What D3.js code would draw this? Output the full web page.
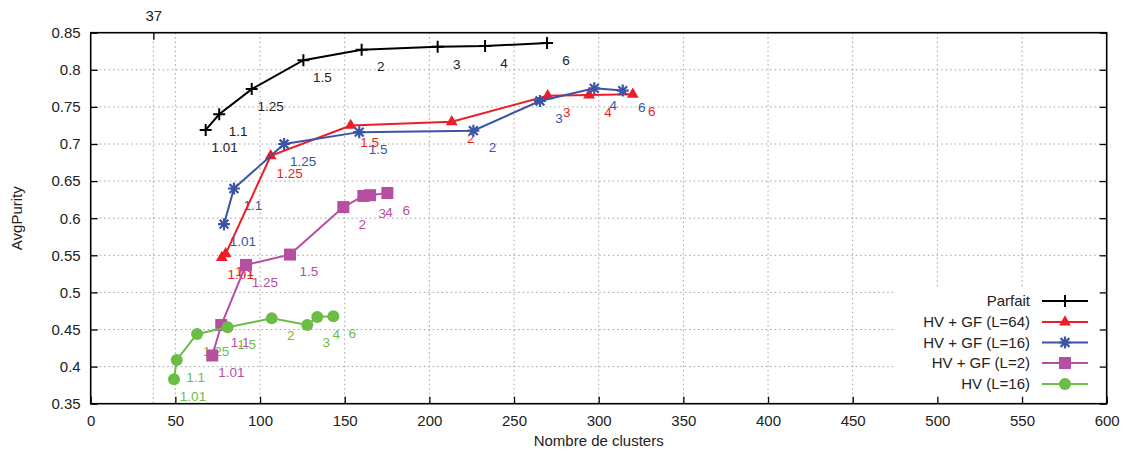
<!DOCTYPE html>
<html>
<head>
<meta charset="utf-8">
<script src="https://cdn.jsdelivr.net/npm/d3@7"></script>
<style>
  body { margin: 0; background: #fff; }
  svg { display: block; font-family: "Liberation Sans", Arial, Helvetica, sans-serif; }
</style>
</head>
<body>
<svg id="chart" width="1131" height="455"></svg>
<script>
// ---- data ----
const pointLabels = ["1.01", "1.1", "1.25", "1.5", "2", "3", "4", "6"];

const parfaitX = [67.9, 75.9, 95.1, 125.6, 160.0, 204.9, 232.9, 269.5];
const parfaitY = [0.719, 0.740, 0.774, 0.813, 0.827, 0.831, 0.832, 0.836];

const l64X = [77.4, 79.7, 106.3, 153.5, 213.2, 269.9, 294.3, 320.1];
const l64Y = [0.547, 0.552, 0.684, 0.725, 0.730, 0.765, 0.766, 0.767];

const l16X = [78.7, 84.6, 114.2, 158.6, 226.0, 265.3, 297.4, 314.2];
const l16Y = [0.592, 0.640, 0.700, 0.716, 0.718, 0.758, 0.775, 0.772];

const l2X = [71.8, 77.1, 91.7, 117.7, 149.2, 161.0, 165.0, 175.2];
const l2Y = [0.415, 0.456, 0.537, 0.551, 0.615, 0.630, 0.631, 0.634];

const hvX = [49.2, 50.8, 62.8, 80.9, 106.9, 127.9, 133.8, 143.3];
const hvY = [0.383, 0.409, 0.444, 0.453, 0.465, 0.456, 0.467, 0.468];

const seriesNames = ["Parfait", "HV + GF (L=64)", "HV + GF (L=16)", "HV + GF (L=2)", "HV (L=16)"];
const seriesColors = ["#000000", "#ee1c24", "#3a55a6", "#b64fa0", "#6cbd45"];
const seriesMarkers = ["plus", "triangle", "star", "square", "circle"];

const xTicks = [0, 50, 100, 150, 200, 250, 300, 350, 400, 450, 500, 550, 600];
const yTicks = [0.35, 0.4, 0.45, 0.5, 0.55, 0.6, 0.65, 0.7, 0.75, 0.8, 0.85];
const x2Ticks = [37];

// ---- layout ----
const svg = d3.select("#chart");
const mLeft = 90.7, mRight = 1106.7, mTop = 32.7, mBottom = 403.7;
const x = d3.scaleLinear().domain([0, 600]).range([mLeft, mRight]);
const y = d3.scaleLinear().domain([0.35, 0.85]).range([mBottom, mTop]);

const seriesData = [
  [parfaitX, parfaitY], [l64X, l64Y], [l16X, l16Y], [l2X, l2Y], [hvX, hvY]
].map(([xs, ys], i) => ({
  name: seriesNames[i], color: seriesColors[i], marker: seriesMarkers[i],
  pts: xs.map((v, j) => ({ x: v, y: ys[j], label: pointLabels[j] }))
}));

// ---- grid ----
const grid = svg.append("g").attr("stroke", "#a0a0a0").attr("stroke-width", 1).attr("stroke-dasharray", "1.5,3");
xTicks.slice(1, -1).concat(x2Ticks).forEach(t => {
  grid.append("line").attr("x1", x(t)).attr("x2", x(t)).attr("y1", mTop).attr("y2", mBottom);
});
yTicks.slice(1, -1).forEach(t => {
  grid.append("line").attr("x1", mLeft).attr("x2", mRight).attr("y1", y(t)).attr("y2", y(t));
});

// opaque legend box
svg.append("rect").attr("x", 895).attr("y", 289).attr("width", mRight - 895).attr("height", mBottom - 289).attr("fill", "#fff");

// ---- axes ----
const tickLen = 7;
const axB = svg.append("g").attr("transform", `translate(0,${mBottom})`)
  .call(d3.axisBottom(x).tickValues(xTicks).tickFormat(d3.format("d")).tickSizeInner(-tickLen).tickSizeOuter(0).tickPadding(12));
const axL = svg.append("g").attr("transform", `translate(${mLeft},0)`)
  .call(d3.axisLeft(y).tickValues(yTicks).tickFormat(d => String(+d.toFixed(2))).tickSizeInner(-tickLen).tickSizeOuter(0).tickPadding(10));
const axR = svg.append("g").attr("transform", `translate(${mRight},0)`)
  .call(d3.axisRight(y).tickValues(yTicks).tickFormat("").tickSizeInner(-tickLen).tickSizeOuter(0));
const axT = svg.append("g").attr("transform", `translate(0,${mTop})`)
  .call(d3.axisTop(x).tickValues(x2Ticks).tickFormat(d3.format("d")).tickSizeInner(-tickLen).tickSizeOuter(0).tickPadding(12));
[axB, axL, axR, axT].forEach(a => {
  a.select(".domain").remove();
  a.selectAll("line").attr("stroke", "#000").attr("stroke-width", 1.3);
  a.selectAll("text").attr("font-size", 15).attr("fill", "#222").attr("font-family", "Liberation Sans, Arial, sans-serif");
});

// border
svg.append("rect").attr("x", mLeft).attr("y", mTop).attr("width", mRight - mLeft).attr("height", mBottom - mTop)
  .attr("fill", "none").attr("stroke", "#000").attr("stroke-width", 1.6);

// axis titles
svg.append("text").attr("x", (mLeft + mRight) / 2).attr("y", 446).attr("text-anchor", "middle")
  .attr("font-size", 15).attr("fill", "#222").text("Nombre de clusters");
svg.append("text").attr("transform", `translate(22,${(mTop + mBottom) / 2}) rotate(-90)`).attr("text-anchor", "middle")
  .attr("font-size", 15).attr("fill", "#222").text("AvgPurity");

// ---- point labels (drawn beneath marks) ----
const labelG = svg.append("g").attr("font-size", 13.5).attr("text-anchor", "middle");
seriesData.forEach(s => {
  s.pts.forEach(p => {
    labelG.append("text").attr("x", x(p.x) + 19).attr("y", y(p.y) + 17).attr("dy", "0.35em")
      .attr("fill", s.color === "#000000" ? "#222" : s.color).text(p.label);
  });
});

// ---- markers ----
function drawMarker(g, type, cx, cy, color) {
  if (type === "plus") {
    g.append("path").attr("d", `M${cx - 6},${cy}H${cx + 6}M${cx},${cy - 6}V${cy + 6}`)
      .attr("stroke", color).attr("stroke-width", 2).attr("fill", "none");
  } else if (type === "triangle") {
    g.append("path").attr("d", d3.symbol(d3.symbolTriangle, 60)()).attr("transform", `translate(${cx},${cy})`)
      .attr("fill", color);
  } else if (type === "star") {
    const r = 6, d = 4.4;
    g.append("path").attr("d", `M${cx - r},${cy}H${cx + r}M${cx},${cy - r}V${cy + r}M${cx - d},${cy - d}L${cx + d},${cy + d}M${cx - d},${cy + d}L${cx + d},${cy - d}`)
      .attr("stroke", color).attr("stroke-width", 2.2).attr("fill", "none");
  } else if (type === "square") {
    g.append("rect").attr("x", cx - 6).attr("y", cy - 6).attr("width", 12).attr("height", 12).attr("fill", color);
  } else if (type === "circle") {
    g.append("circle").attr("cx", cx).attr("cy", cy).attr("r", 6).attr("fill", color);
  }
}

const line = d3.line().x(d => x(d.x)).y(d => y(d.y));
seriesData.forEach(s => {
  const g = svg.append("g");
  g.append("path").datum(s.pts).attr("d", line).attr("fill", "none").attr("stroke", s.color).attr("stroke-width", 2);
  s.pts.forEach(p => drawMarker(g, s.marker, x(p.x), y(p.y), s.color));
});

// ---- legend ----
const legY = [301, 322, 342.5, 363, 384];
seriesData.forEach((s, i) => {
  const g = svg.append("g");
  g.append("text").attr("x", 1030).attr("y", legY[i]).attr("dy", "0.35em").attr("text-anchor", "end")
    .attr("font-size", 15).attr("fill", "#222").text(s.name);
  g.append("line").attr("x1", 1042).attr("x2", 1088).attr("y1", legY[i]).attr("y2", legY[i])
    .attr("stroke", s.color).attr("stroke-width", 2);
  drawMarker(g, s.marker, 1065, legY[i], s.color);
});
</script>
</body>
</html>
